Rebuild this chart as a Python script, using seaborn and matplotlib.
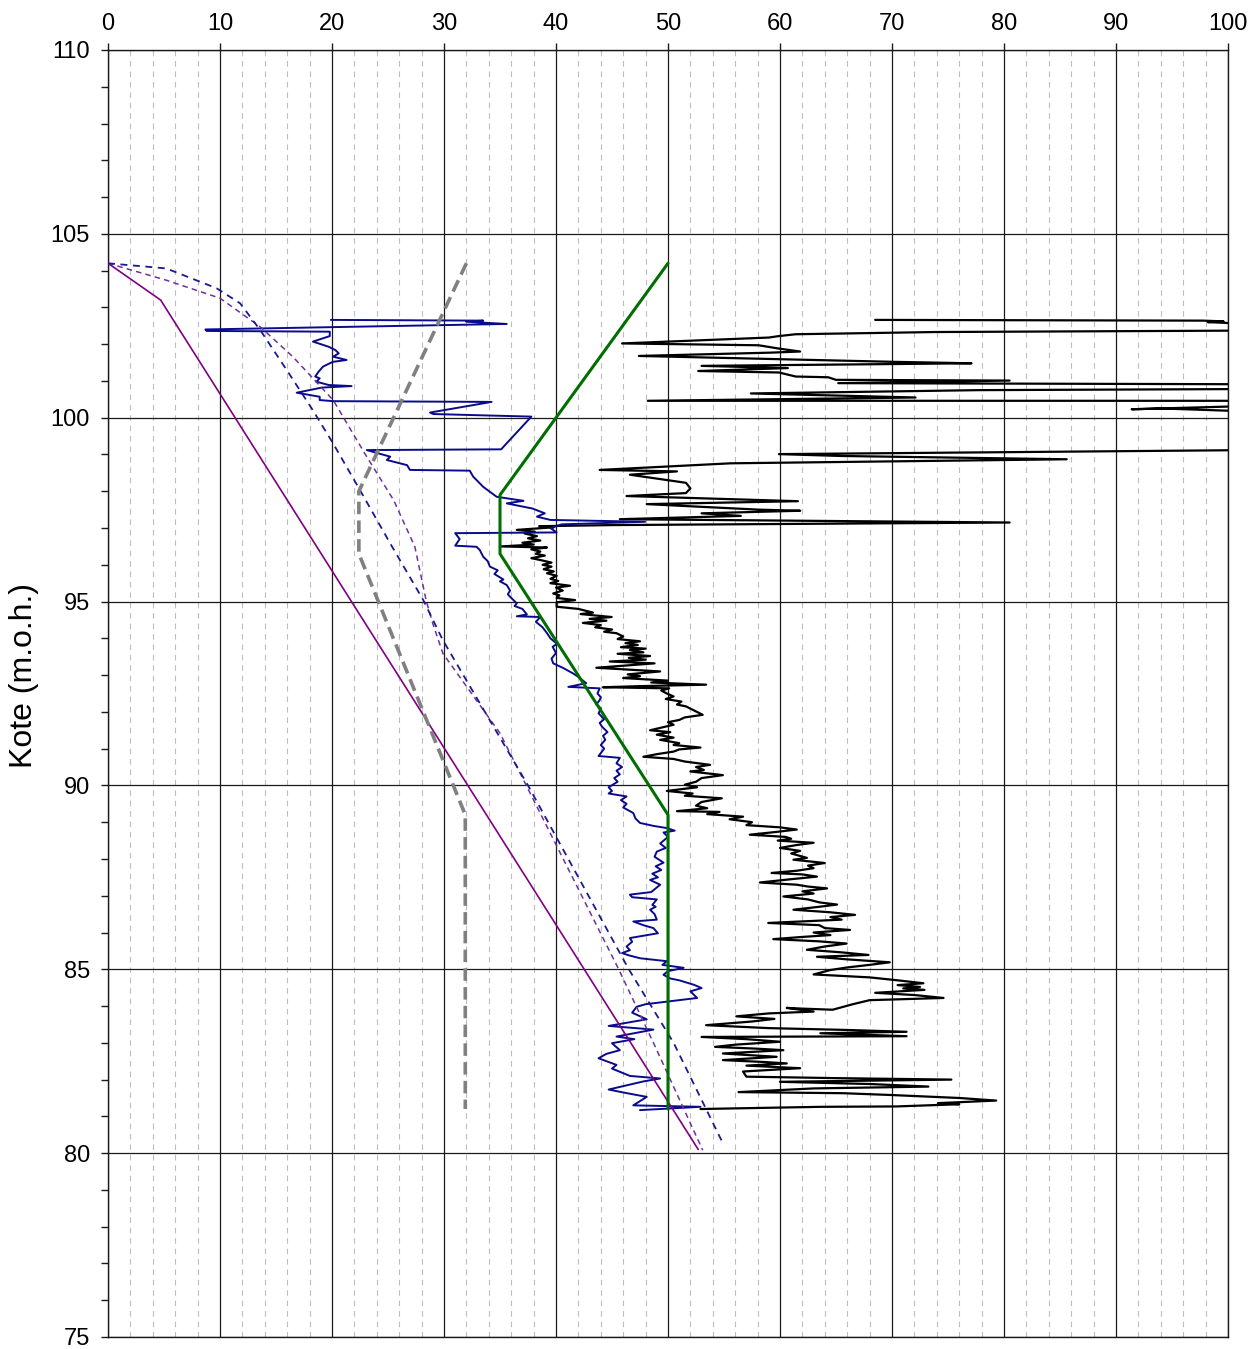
import numpy as np
import pandas as pd
import matplotlib
matplotlib.use("Agg")
import matplotlib.pyplot as plt
from matplotlib.ticker import MultipleLocator
import seaborn as sns

# ---- profile data: value (x) against level z (m.o.h.) ----
purple_x = [0.0, 4.7, 52.7]
purple_z = [104.2, 103.2, 80.1]

purple_dash_x = [0.0, 5.2, 10.0, 13.6, 16.5, 20.1, 23.1, 25.5, 27.4, 28.4, 29.0,
                 29.9, 35.0, 40.1, 45.6, 48.7, 53.1]
purple_dash_z = [104.2, 103.74, 103.25, 102.47, 101.66, 100.48, 98.94, 97.76, 96.49,
                 95.04, 94.4, 93.59, 91.42, 88.33, 85.0, 83.0, 80.08]

blue_dash_x = [0.0, 5.2, 9.7, 11.8, 13.6, 15.95, 18.3, 20.1, 22.5, 25.2, 28.15,
               29.9, 37.5, 46.5, 50.5, 54.9]
blue_dash_z = [104.2, 104.06, 103.52, 103.11, 102.38, 101.3, 100.2, 99.3, 98.03,
               96.58, 95.04, 93.95, 90.0, 85.0, 83.0, 80.27]

grey_x = [32.0, 22.4, 22.4, 31.9, 31.9]
grey_z = [104.2, 98.0, 96.3, 89.2, 81.2]

green_x = [50.0, 35.0, 35.0, 50.0, 50.0]
green_z = [104.2, 97.9, 96.3, 89.2, 81.2]

blue_x = [19.9, 33.5, 32.0, 35.6, 8.7, 8.8, 19.8, 19.8, 18.3, 19.7, 20.3, 20.6, 20.1,
          21.3, 20.1, 19.8, 19.2, 18.8, 18.5, 18.9, 18.6, 19.7, 21.75, 19.1, 16.85,
          17.6, 18.9, 18.9, 20.1, 34.25, 28.75, 29.05, 37.8, 35.1, 23.1, 25.2, 24.9,
          26.7, 26.96, 32.3, 32.6, 33.5, 34.7, 37.1, 35.6, 37.9, 39.0, 38.3, 39.5,
          47.95, 40.5, 39.5, 40.06, 31.0, 31.4, 31.0,
          32.9, 33.2, 33.5, 33.9, 34.1, 34.8, 34.5, 35.3, 35.0, 35.6, 35.9, 35.7, 35.9,
          36.5, 36.3, 37.0, 37.4, 36.5, 38.6, 38.2, 38.8, 39.2, 39.5, 40.1, 39.7, 40.0,
          39.6, 39.75, 40.6, 41.5, 42.0, 42.7, 41.1, 43.9, 43.7, 44.0, 43.9, 43.6, 44.0,
          43.8, 44.3, 43.9, 44.1, 44.6, 44.2, 44.4, 44.0, 44.3, 43.8, 45.7, 45.4, 45.9,
          45.4, 45.7, 45.2, 45.5, 44.7, 45.0, 44.7, 46.3, 45.8, 46.3, 46.0, 46.9, 47.1,
          47.5, 48.7, 49.9, 50.6, 49.6, 50.0, 49.3, 49.8, 49.0, 48.8, 49.6, 48.9, 49.4,
          48.6, 49.1, 48.4, 49.3, 48.5, 46.6, 46.8, 49.0, 48.6, 48.9, 48.4, 48.8, 49.0,
          46.9, 47.8, 48.7, 49.1, 46.6, 46.8, 46.3, 46.6, 45.9, 46.5, 47.5, 49.9, 49.5,
          51.4, 50.0, 49.6, 50.2, 51.0, 52.3, 53.0, 52.0, 52.6, 50.2, 48.0, 47.2, 46.8,
          48.1, 44.7, 48.7, 45.4, 47.0, 45.0, 45.7, 44.5, 43.8, 45.4, 45.0, 46.6, 49.3,
          47.8, 44.7, 46.0, 48.1, 46.9, 52.9, 47.5]
blue_z = [102.66, 102.64, 102.61, 102.55, 102.40, 102.36, 102.34, 102.22, 102.07,
          101.93, 101.84, 101.75, 101.66, 101.57, 101.52, 101.48, 101.39, 101.25,
          101.12, 101.07, 100.98, 100.89, 100.86, 100.82, 100.68, 100.64, 100.57,
          100.48, 100.45, 100.43, 100.14, 100.10, 100.03, 99.14, 99.12, 98.94, 98.85,
          98.71, 98.58, 98.56, 98.40, 98.12, 97.85, 97.74, 97.67, 97.53, 97.40, 97.31,
          97.22, 97.17, 97.10, 97.00, 96.88, 96.86, 96.70, 96.52,
          96.49, 96.40, 96.22, 96.10, 95.95, 95.85, 95.75, 95.60, 95.55, 95.45, 95.30,
          95.20, 95.13, 94.95, 94.88, 94.80, 94.65, 94.60, 94.58, 94.45, 94.30, 94.14,
          94.00, 93.85, 93.77, 93.60, 93.45, 93.32, 93.20, 93.05, 92.95, 92.78, 92.68,
          92.64, 92.50, 92.40, 92.32, 92.20, 92.10, 91.96, 91.80, 91.70, 91.60, 91.45,
          91.35, 91.24, 91.10, 91.00, 90.80, 90.75, 90.60, 90.50, 90.40, 90.30, 90.20,
          90.10, 89.95, 89.85, 89.78, 89.70, 89.60, 89.50, 89.40, 89.25, 89.10, 88.98,
          88.90, 88.84, 88.77, 88.72, 88.60, 88.42, 88.30, 88.20, 88.06, 87.90, 87.80,
          87.70, 87.60, 87.50, 87.43, 87.30, 87.10, 87.03, 86.96, 86.90, 86.75, 86.70,
          86.62, 86.50, 86.35, 86.30, 86.20, 86.12, 85.98, 85.85, 85.75, 85.62, 85.52,
          85.44, 85.38, 85.30, 85.22, 85.12, 85.04, 84.95, 84.85, 84.75, 84.70, 84.58,
          84.49, 84.40, 84.22, 84.13, 84.05, 83.98, 83.82, 83.64, 83.46, 83.36, 83.17,
          83.10, 82.99, 82.80, 82.70, 82.58, 82.40, 82.30, 82.10, 82.03, 81.95, 81.73,
          81.65, 81.53, 81.30, 81.26, 81.17]

black_x = [68.5, 97.8, 99.6, 98.2, 102.0, 102.0, 73.8, 61.4, 59.9, 59.0, 45.9, 58.1,
           59.9, 61.8, 59.2, 47.4, 70.1, 77.1, 53.0, 60.7, 52.7, 59.9, 61.4, 64.3,
           65.0, 80.5, 65.2, 102.0, 102.0, 77.8, 57.4, 72.1, 48.2, 102.0, 102.0,
           91.4, 94.2, 102.0, 102.0, 59.9, 65.4, 85.6, 55.6, 43.9, 50.8, 46.6, 51.6,
           52.0, 51.6, 46.3, 61.6, 48.1, 58.1, 61.8, 53.0, 56.5, 45.7, 80.5,
           45.0, 38.5, 39.8, 36.5, 38.1, 37.2, 38.3, 37.5, 38.6, 37.0, 38.0, 35.1, 39.2,
           37.8, 38.6, 38.2, 39.0, 37.8, 38.6, 39.6, 38.8, 39.6, 38.9, 39.8, 39.2, 40.06,
           39.5, 40.2, 39.5, 41.25, 40.0, 40.6, 39.75, 40.3, 40.06, 41.7, 40.06, 40.06,
           42.0, 43.3, 42.2, 44.97, 43.0, 44.5, 42.4, 44.0, 43.5, 45.0, 44.3, 45.4, 46.0,
           45.5, 47.5, 46.2, 47.3, 45.8, 48.0, 46.6, 47.8, 45.5, 48.4, 46.5, 48.0, 44.8,
           48.8, 43.6, 49.3, 46.4, 47.5, 46.0, 50.0, 48.5, 53.4, 47.5, 44.2, 50.1, 49.4,
           49.9, 50.5, 49.8, 51.2, 50.8, 51.6, 53.1, 51.5, 51.0, 50.0, 50.5, 48.4, 50.2,
           49.0, 50.5, 49.3, 51.0, 50.5, 52.9, 51.0, 50.5, 49.0, 47.8, 50.5, 51.5, 53.75,
           52.5, 53.2, 52.0, 54.9, 53.0, 52.5, 51.5, 52.6, 49.9, 52.2, 51.5, 54.8, 53.0,
           52.5, 53.5, 50.8, 54.6, 53.5, 56.7, 55.5, 57.5, 57.0, 60.0, 61.5, 59.5, 57.3,
           60.5, 61.0, 59.8, 63.0, 61.5, 60.0, 61.8, 61.0, 62.4, 61.2, 64.0, 62.5, 63.0,
           61.5, 59.25, 62.0, 63.3, 61.0, 58.2, 61.5, 62.5, 64.2, 62.0, 63.0, 60.3, 62.5,
           63.5, 65.1, 63.5, 61.2, 64.5, 66.7, 64.5, 65.5, 58.95, 63.5, 64.0, 66.25, 63.0,
           64.5, 62.0, 59.4, 63.5, 65.95, 64.0, 62.4, 65.5, 67.9, 63.3, 66.0, 69.8, 68.0,
           66.0, 64.5, 63.0, 68.0, 70.5, 72.8, 70.5, 72.5, 71.0, 72.9, 68.5, 72.0, 74.6,
           68.0, 66.5, 64.7, 62.0, 60.6, 63.0, 59.0, 56.1, 59.5, 57.5, 53.4, 59.0, 66.0,
           71.3, 63.6, 71.3, 53.0, 57.0, 60.0, 56.0, 54.2, 58.0, 60.3, 54.9, 57.0, 59.7,
           54.9, 58.5, 60.6, 57.0, 61.8, 56.7, 57.0, 65.0, 75.3, 60.0, 68.0, 73.25, 63.0,
           56.3, 65.65, 70.0, 76.0, 79.3, 74.1, 76.0, 70.4, 63.7, 52.9]
black_z = [102.66, 102.64, 102.62, 102.60, 102.55, 102.37, 102.33, 102.27, 102.22,
           102.18, 102.02, 101.97, 101.88, 101.80, 101.77, 101.68, 101.52, 101.48,
           101.41, 101.35, 101.27, 101.23, 101.12, 101.10, 101.03, 101.01, 100.94,
           100.91, 100.78, 100.75, 100.66, 100.55, 100.46, 100.46, 100.32, 100.23,
           100.25, 100.17, 99.12, 99.01, 98.96, 98.87, 98.76, 98.58, 98.54, 98.45,
           98.23, 98.08, 97.95, 97.87, 97.73, 97.65, 97.50, 97.47, 97.40, 97.33,
           97.24, 97.15,
           97.08, 97.05, 97.02, 96.95, 96.90, 96.85, 96.78, 96.72, 96.66, 96.60, 96.55,
           96.50, 96.47, 96.42, 96.36, 96.30, 96.25, 96.18, 96.13, 96.06, 96.00, 95.95,
           95.88, 95.82, 95.77, 95.70, 95.62, 95.56, 95.50, 95.43, 95.38, 95.30, 95.22,
           95.17, 95.10, 95.04, 94.98, 94.86,
           94.80, 94.70, 94.66, 94.58, 94.53, 94.48, 94.42, 94.36, 94.30, 94.24, 94.18,
           94.14, 94.05, 93.98, 93.92, 93.87, 93.82, 93.76, 93.72, 93.68, 93.62, 93.58,
           93.52, 93.47, 93.42, 93.37, 93.32, 93.20, 93.10, 93.02, 92.97, 92.92, 92.85,
           92.80, 92.74, 92.70, 92.67, 92.64, 92.58, 92.50, 92.42, 92.35, 92.28, 92.20,
           92.15, 91.92, 91.85, 91.78, 91.72, 91.65, 91.50, 91.45, 91.38, 91.30, 91.24,
           91.15, 91.10, 91.03, 90.98, 90.92, 90.85, 90.78, 90.72, 90.65, 90.56, 90.50,
           90.42, 90.38, 90.28, 90.20, 90.10, 90.02, 89.95, 89.85, 89.78, 89.72, 89.65,
           89.55, 89.45, 89.38, 89.30, 89.28, 89.22, 89.15, 89.08, 89.00, 88.92, 88.86,
           88.80, 88.73, 88.66, 88.60, 88.55, 88.50, 88.44, 88.38, 88.30, 88.22, 88.15,
           88.03, 87.98, 87.89, 87.82, 87.75, 87.68, 87.62, 87.58, 87.52, 87.45, 87.36,
           87.30, 87.25, 87.20, 87.12, 87.06, 86.98, 86.90, 86.82, 86.76, 86.70, 86.62,
           86.55, 86.48, 86.42, 86.35, 86.26, 86.20, 86.12, 86.07, 86.00, 85.93, 85.88,
           85.82, 85.76, 85.70, 85.62, 85.53, 85.46, 85.39, 85.34, 85.27, 85.19, 85.12,
           85.05, 84.98, 84.86, 84.78, 84.70, 84.62, 84.57, 84.52, 84.48, 84.44, 84.36,
           84.30, 84.22, 84.16, 84.05, 83.90, 83.93, 83.95, 83.85, 83.80, 83.72, 83.65,
           83.58, 83.48, 83.40, 83.35, 83.30, 83.26, 83.18, 83.16, 83.10, 83.03, 82.95,
           82.89, 82.84, 82.80, 82.71, 82.67, 82.62, 82.53, 82.48, 82.44, 82.38, 82.31,
           82.22, 82.08, 82.04, 82.00, 81.94, 81.88, 81.81, 81.76, 81.66, 81.63, 81.58,
           81.50, 81.43, 81.36, 81.33, 81.27, 81.26, 81.20]

x_ticks = list(range(0, 101, 10))
z_ticks = list(range(75, 111, 5))

# ---- style ----
sns.set_theme(style="white")
plt.rcParams["font.family"] = ["Liberation Sans", "DejaVu Sans"]
plt.rcParams["lines.scale_dashes"] = False
plt.rcParams["text.color"] = "black"
plt.rcParams["axes.labelcolor"] = "black"
plt.rcParams["xtick.color"] = "black"
plt.rcParams["ytick.color"] = "black"

fig = plt.figure(figsize=(12.58, 13.49), dpi=100)
ax = fig.add_axes([108 / 1258, 1 - 1337 / 1349, 1120 / 1258, 1287 / 1349])


def draw(xs, zs, color, lw, ls="-", z=2):
    df = pd.DataFrame({"v": xs, "z": zs})
    n_before = len(ax.lines)
    sns.lineplot(data=df, x="v", y="z", sort=False, estimator=None, ax=ax,
                 color=color, linewidth=lw, linestyle=ls, zorder=z)
    for ln in ax.lines[n_before:]:
        ln.set_linestyle(ls)
        ln.set_solid_joinstyle("round")


draw(black_x, black_z, "black", 1.6, z=3)
draw(blue_x, blue_z, "#0A0A8C", 1.4, z=4)
draw(purple_x, purple_z, "#800080", 1.2, z=5)
draw(purple_dash_x, purple_dash_z, "#7030A0", 1.1, (0, (4, 3)), z=5)
draw(blue_dash_x, blue_dash_z, "#1A1A8C", 1.3, (0, (5, 4)), z=5)
draw(grey_x, grey_z, "#808080", 2.6, (0, (9, 4.5)), z=5)
draw(green_x, green_z, "#006E00", 2.2, z=6)

# ---- axes, ticks and grid ----
ax.set_xlim(0, 100)
ax.set_ylim(75, 110)
ax.xaxis.tick_top()
ax.set_xticks(x_ticks)
ax.set_yticks(z_ticks)
ax.xaxis.set_minor_locator(MultipleLocator(2))
ax.yaxis.set_minor_locator(MultipleLocator(1))

ax.grid(which="major", axis="both", color="#1A1A1A", linewidth=0.9, zorder=1)
ax.grid(which="minor", axis="x", color="#BDBDBD", linewidth=0.8,
        linestyle=(0, (4, 3.5)), zorder=1)
ax.set_axisbelow(True)

ax.tick_params(axis="x", which="major", direction="out", length=5, width=1,
               color="#1A1A1A", labelcolor="black", labelsize=17, pad=6,
               top=True, bottom=False)
ax.tick_params(axis="x", which="minor", length=0, top=False, bottom=False)
ax.tick_params(axis="y", which="major", direction="out", length=5, width=1,
               color="#1A1A1A", labelcolor="black", labelsize=17, pad=8, left=True)
ax.tick_params(axis="y", which="minor", direction="out", length=5, width=1,
               color="#1A1A1A", left=True)

for sp in ax.spines.values():
    sp.set_visible(True)
    sp.set_color("#1A1A1A")
    sp.set_linewidth(1.0)

ax.set_xlabel("")
ax.set_ylabel("Kote (m.o.h.)", fontsize=23, color="black")
ax.yaxis.set_label_coords(-0.062, 0.514)

fig.savefig("out.png", dpi=100, facecolor="white")
